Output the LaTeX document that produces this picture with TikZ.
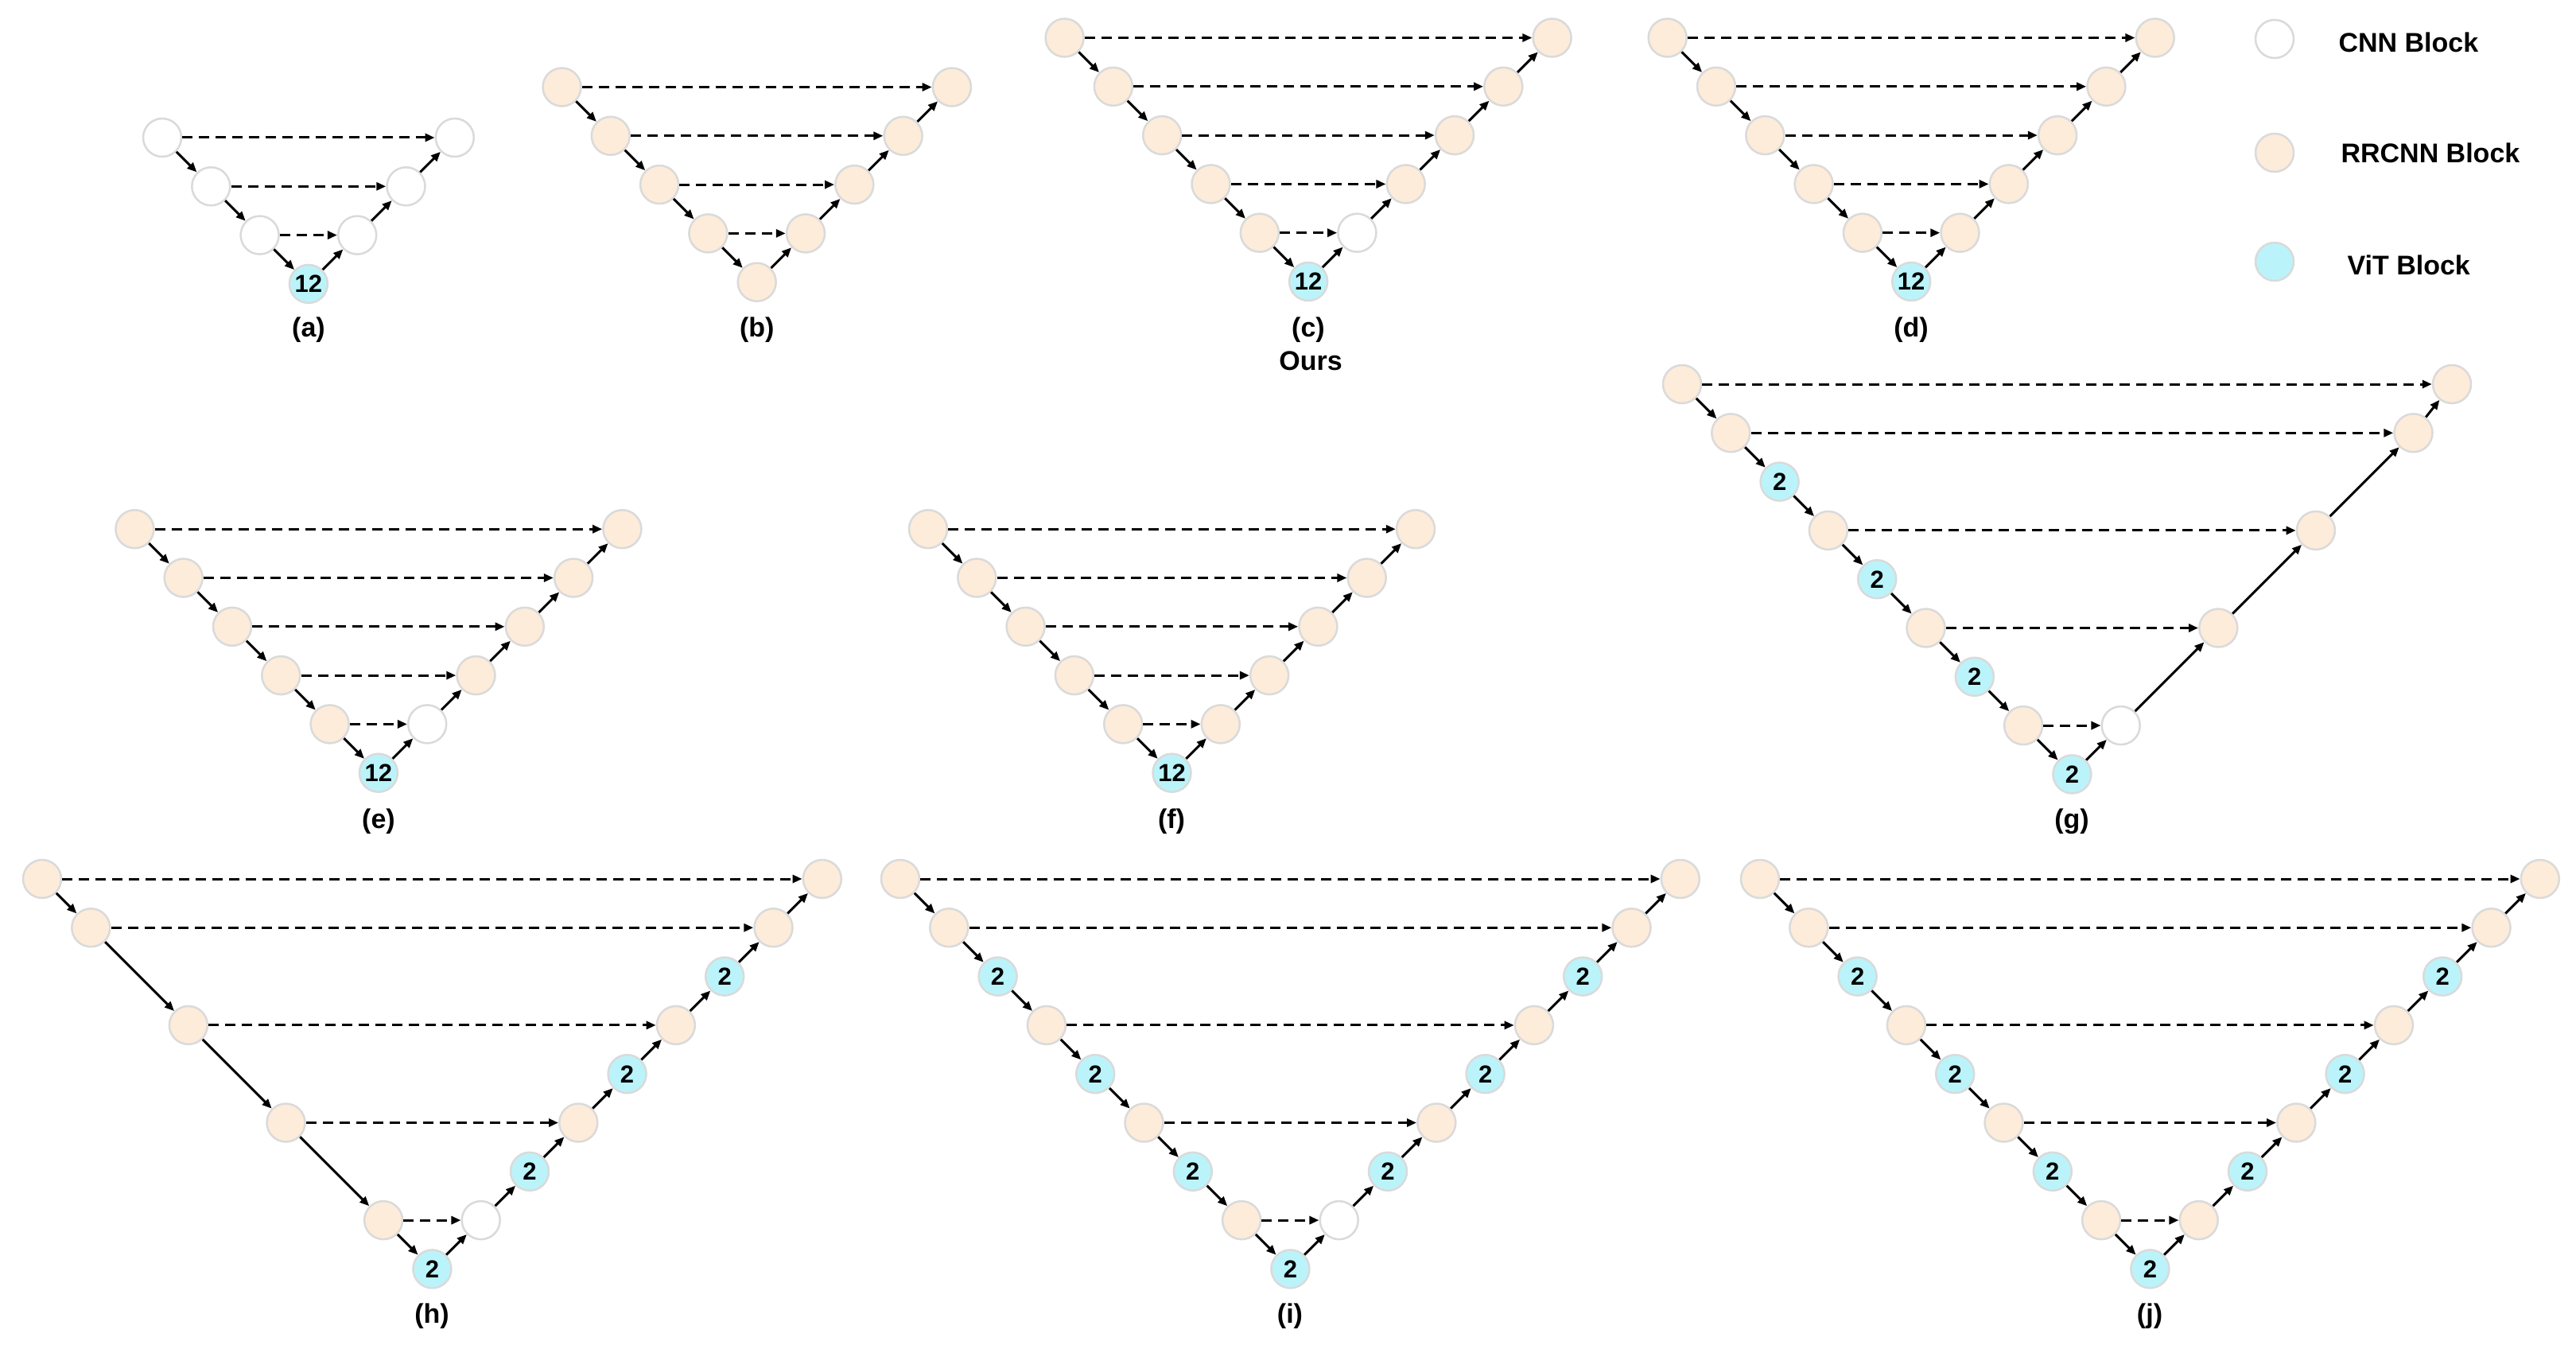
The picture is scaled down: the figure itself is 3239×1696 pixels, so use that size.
\documentclass[tikz,border=0pt]{standalone}
\usepackage{fontspec}
\setmainfont{Liberation Sans}
\usetikzlibrary{arrows.meta}
\definecolor{bordc}{RGB}{218,218,218}
\definecolor{rrc}{RGB}{253,236,218}
\definecolor{vitc}{RGB}{186,244,250}
\tikzset{
 blk/.style={circle, draw=bordc, line width=2.5pt, minimum size=48pt, inner sep=0pt},
 cnn/.style={blk, fill=white},
 rrcnn/.style={blk, fill=rrc},
 vit/.style={blk, fill=vitc, font=\fontsize{31}{31}\selectfont\bfseries},
 arr/.style={line width=3pt, -{Triangle[length=12pt,width=10pt]}},
 darr/.style={arr, dash pattern=on 13pt off 8pt},
 lbl/.style={font=\fontsize{34}{34}\selectfont\bfseries},
}
\def\stp{61.3}
\newcommand\vchain[6]{%
 \foreach \ty/\txt [count=\i from 0] in {#5} {
   \pgfmathtruncatemacro\dd{#4-abs(\i-#4)}
   \node[\ty] (#1\i) at ({#2+\i*\stp},{#3+\dd*\stp}) {\txt};
 }
 \pgfmathtruncatemacro\mm{2*#4-1}
 \foreach \i in {0,...,\mm} {
   \pgfmathtruncatemacro\jj{\i+1}
   \draw[arr] (#1\i) -- (#1\jj);
 }
 \foreach \i in {#6} {
   \pgfmathtruncatemacro\jj{2*#4-\i}
   \draw[darr] (#1\i) -- (#1\jj);
 }
}
\begin{document}
\begin{tikzpicture}[x=1pt,y=-1pt]
\path[use as bounding box, fill=white] (0,0) rectangle (3239,1696);

% (a)
\vchain{a}{204}{173}{3}{cnn/{},cnn/{},cnn/{},vit/12,cnn/{},cnn/{},cnn/{}}{0,1,2}
% (b)
\vchain{b}{706.5}{109.5}{4}{rrcnn/{},rrcnn/{},rrcnn/{},rrcnn/{},rrcnn/{},rrcnn/{},rrcnn/{},rrcnn/{},rrcnn/{}}{0,1,2,3}
% (c)
\vchain{c}{1338.6}{47.5}{5}{rrcnn/{},rrcnn/{},rrcnn/{},rrcnn/{},rrcnn/{},vit/12,cnn/{},rrcnn/{},rrcnn/{},rrcnn/{},rrcnn/{}}{0,1,2,3,4}
% (d)
\vchain{d}{2096.7}{47.5}{5}{rrcnn/{},rrcnn/{},rrcnn/{},rrcnn/{},rrcnn/{},vit/12,rrcnn/{},rrcnn/{},rrcnn/{},rrcnn/{},rrcnn/{}}{0,1,2,3,4}
% (e)
\vchain{e}{169.4}{665.2}{5}{rrcnn/{},rrcnn/{},rrcnn/{},rrcnn/{},rrcnn/{},vit/12,cnn/{},rrcnn/{},rrcnn/{},rrcnn/{},rrcnn/{}}{0,1,2,3,4}
% (f)
\vchain{f}{1167}{665.2}{5}{rrcnn/{},rrcnn/{},rrcnn/{},rrcnn/{},rrcnn/{},vit/12,rrcnn/{},rrcnn/{},rrcnn/{},rrcnn/{},rrcnn/{}}{0,1,2,3,4}
% (i)
\vchain{i}{1132}{1105}{8}{rrcnn/{},rrcnn/{},vit/2,rrcnn/{},vit/2,rrcnn/{},vit/2,rrcnn/{},vit/2,cnn/{},vit/2,rrcnn/{},vit/2,rrcnn/{},vit/2,rrcnn/{},rrcnn/{}}{0,1,3,5,7}
% (j)
\vchain{j}{2213}{1105}{8}{rrcnn/{},rrcnn/{},vit/2,rrcnn/{},vit/2,rrcnn/{},vit/2,rrcnn/{},vit/2,rrcnn/{},vit/2,rrcnn/{},vit/2,rrcnn/{},vit/2,rrcnn/{},rrcnn/{}}{0,1,3,5,7}

% (g)
\foreach \n/\x/\y/\ty/\txt in {
  0/2115/483/rrcnn/{}, 1/2176.3/544.3/rrcnn/{}, 2/2237.6/605.6/vit/2,
  3/2298.9/666.9/rrcnn/{}, 4/2360.2/728.2/vit/2, 5/2421.5/789.5/rrcnn/{},
  6/2482.8/850.8/vit/2, 7/2544.1/912.1/rrcnn/{}, 8/2605.4/973.4/vit/2,
  9/2666.7/912.1/cnn/{}, 10/2789.3/789.5/rrcnn/{}, 11/2911.9/666.9/rrcnn/{},
  12/3034.5/544.3/rrcnn/{}, 13/3083/483/rrcnn/{}}
  \node[\ty] (g\n) at (\x,\y) {\txt};
\foreach \i in {0,...,12} {
  \pgfmathtruncatemacro\jj{\i+1}
  \draw[arr] (g\i) -- (g\jj);
}
\foreach \p/\q in {0/13,1/12,3/11,5/10,7/9}
  \draw[darr] (g\p) -- (g\q);

% (h)
\foreach \n/\x/\y/\ty/\txt in {
  0/53/1105/rrcnn/{}, 1/114.3/1166.3/rrcnn/{}, 2/236.9/1288.9/rrcnn/{},
  3/359.5/1411.5/rrcnn/{}, 4/482.1/1534.1/rrcnn/{}, 5/543.4/1595.4/vit/2,
  6/604.7/1534.1/cnn/{}, 7/666/1472.8/vit/2, 8/727.3/1411.5/rrcnn/{},
  9/788.6/1350.2/vit/2, 10/849.9/1288.9/rrcnn/{}, 11/911.2/1227.6/vit/2,
  12/972.5/1166.3/rrcnn/{}, 13/1033.8/1105/rrcnn/{}}
  \node[\ty] (h\n) at (\x,\y) {\txt};
\foreach \i in {0,...,12} {
  \pgfmathtruncatemacro\jj{\i+1}
  \draw[arr] (h\i) -- (h\jj);
}
\foreach \p/\q in {0/13,1/12,2/10,3/8,4/6}
  \draw[darr] (h\p) -- (h\q);

% labels
\node[lbl] (la) at (388,415) {(a)};
\node[lbl] (lb) at (951.7,415) {(b)};
\node[lbl] (lc) at (1645,415) {(c)};
\node[lbl] (lours) at (1648,454) {Ours};
\node[lbl] (ld) at (2403,415) {(d)};
\node[lbl] (le) at (476,1033) {(e)};
\node[lbl] (lf) at (1473,1033) {(f)};
\node[lbl] (lg) at (2605,1033) {(g)};
\node[lbl] (lh) at (543,1655) {(h)};
\node[lbl] (li) at (1622,1655) {(i)};
\node[lbl] (lj) at (2703,1655) {(j)};

% legend
\node[cnn] (kc) at (2860,49) {};
\node[rrcnn] (kr) at (2860,192) {};
\node[vit] (kv) at (2860,329) {};
\node[lbl, anchor=base west] (kct) at (2937,66) {CNN Block};
\node[lbl, anchor=base west] (krt) at (2940,205) {RRCNN Block};
\node[lbl, anchor=base west] (kvt) at (2948,345) {ViT Block};
\end{tikzpicture}
\end{document}
